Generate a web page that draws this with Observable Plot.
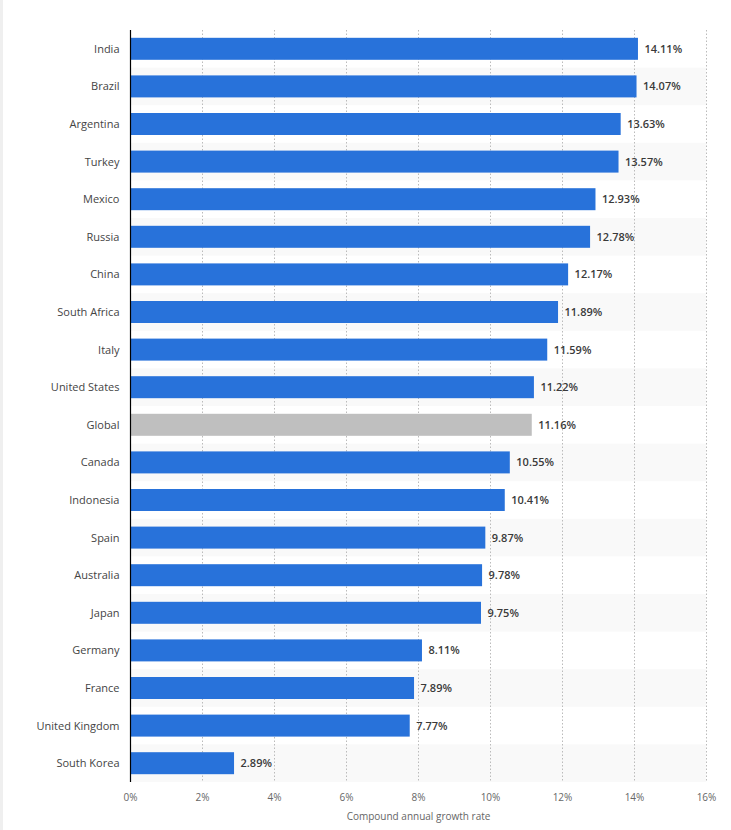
<!DOCTYPE html>
<html>
<head>
<meta charset="utf-8">
<script src="https://cdn.jsdelivr.net/npm/d3@7"></script>
<script src="https://cdn.jsdelivr.net/npm/@observablehq/plot@0.6"></script>
<style>
  html, body { margin: 0; padding: 0; background: #fff; }
  #wrap { width: 728px; border-left: 3px solid #efefef; }
  svg { display: block; }
</style>
</head>
<body>
<div id="wrap"></div>
<script>
const countries = ["India","Brazil","Argentina","Turkey","Mexico","Russia","China","South Africa","Italy","United States","Global","Canada","Indonesia","Spain","Australia","Japan","Germany","France","United Kingdom","South Korea"];
const growth = [14.11,14.07,13.63,13.57,12.93,12.78,12.17,11.89,11.59,11.22,11.16,10.55,10.41,9.87,9.78,9.75,8.11,7.89,7.77,2.89];
const highlight = "Global";
const xTicks = [0,2,4,6,8,10,12,14,16];
const xLabel = "Compound annual growth rate";

const data = countries.map((c, i) => ({country: c, value: growth[i], idx: i}));
const stripes = data.filter(d => d.idx % 2 === 1);

const chart = Plot.plot({
  width: 728,
  height: 830,
  marginLeft: 127,
  marginRight: 25,
  marginTop: 30,
  marginBottom: 48,
  style: {fontFamily: "'Open Sans', sans-serif", background: "#fff"},
  x: {domain: [0, 16]},
  y: {domain: countries, paddingInner: 0.415, paddingOuter: 0.2075, round: false},
  marks: [
    Plot.barX(stripes, {y: "country", x1: 0, x2: 16, fill: "#f9f9f9", insetTop: -7.8, insetBottom: -7.8}),
    Plot.gridX(xTicks.filter(d => d > 0), {stroke: "#bbb", strokeOpacity: 1, strokeDasharray: "1.5,2"}),
    Plot.barX(data, {y: "country", x: "value", fill: d => d.country === highlight ? "#bfbfbf" : "#2872da"}),
    Plot.text(data, {y: "country", x: "value", text: d => d.value.toFixed(2) + "%", dx: 6, textAnchor: "start", fill: "#3a3a3a", fontSize: 11, fontWeight: 600}),
    Plot.ruleX([0], {stroke: "#000", strokeWidth: 1.2}),
    Plot.axisY({tickSize: 0, tickPadding: 11, label: null, fontSize: 11, color: "#444"}),
    Plot.axisX({ticks: xTicks, tickSize: 0, tickPadding: 11, tickFormat: d => d + "%", fontSize: 10, color: "#666",
      label: xLabel, labelAnchor: "center", labelArrow: "none", labelOffset: 37})
  ]
});
document.getElementById("wrap").appendChild(chart);
</script>
</body>
</html>
